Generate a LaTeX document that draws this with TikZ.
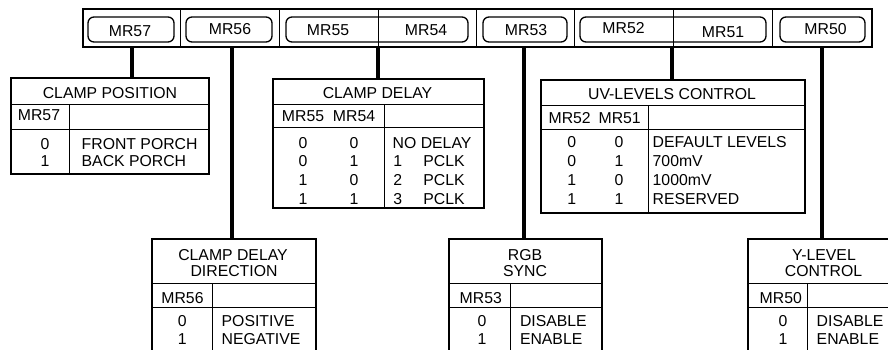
\documentclass[tikz,border=0pt]{standalone}
\usepackage{fontspec}
\setmainfont{Liberation Sans}
\begin{document}
\begin{tikzpicture}[x=1pt,y=-1pt,
  txt/.style={inner sep=0pt, outer sep=0pt, text height=11.3pt, text depth=0pt, font=\fontsize{15.8}{18}\selectfont},
  lft/.style={txt, anchor=west},
  tbl/.style={draw, line width=1.6pt, inner sep=0pt, outer sep=0pt, anchor=north west},
  thinline/.style={line width=1pt},
  conn/.style={line width=3.2pt},
  regbox/.style={draw, rounded corners=6pt, line width=1.3pt, inner sep=0pt, outer sep=0pt, anchor=north west, minimum height=25pt}]
\useasboundingbox (0,0) rectangle (888,349);
\begin{scope}
\clip (0,0) rectangle (888,349);
% ---------- top register bar ----------
\node[tbl, minimum width=789pt, minimum height=38pt] (bar) at (83,9) {};
\foreach \x in {180,279,378,476,574,673,772}
  \draw[thinline] (\x,9) -- (\x,47);
\node[regbox, minimum width=86pt]  (r57) at (88,17) {};
\node[regbox, minimum width=86pt]  (r56) at (186,17) {};
\node[regbox, minimum width=182pt] (r5554) at (286,17) {};
\node[regbox, minimum width=84pt]  (r53) at (483,17) {};
\node[regbox, minimum width=186pt] (r5251) at (580,17) {};
\node[regbox, minimum width=85pt]  (r50) at (780,17) {};
\node[txt] (l57) at (130,30.5) {MR57};
\node[txt] (l56) at (230,28.8) {MR56};
\node[txt] (l55) at (328,29.5) {MR55};
\node[txt] (l54) at (426,29.5) {MR54};
\node[txt] (l53) at (526,29.7) {MR53};
\node[txt] (l52) at (623.5,28) {MR52};
\node[txt] (l51) at (723,31.7) {MR51};
\node[txt] (l50) at (825.5,28.8) {MR50};
\coordinate (c57) at (132,47);
\coordinate (c56) at (232,47);
\coordinate (c5554) at (378,47);
\coordinate (c53) at (524,47);
\coordinate (c5251) at (672,47);
\coordinate (c50) at (822,47);

% ---------- CLAMP POSITION ----------
\node[tbl, minimum width=198pt, minimum height=96pt] (t1) at (11,78) {};
\draw[thinline] (11,104) -- (209,104);
\draw[thinline] (11,129) -- (209,129);
\draw[thinline] (69,104) -- (69,174);
\node[txt] (t1h) at (110,92.5) {CLAMP POSITION};
\node[txt] (t1r) at (39,115.3) {MR57};
\node[txt] (t1a0) at (45,144.2) {0};
\node[txt] (t1a1) at (45,160.8) {1};
\node[lft] (t1b0) at (81.7,144.2) {FRONT PORCH};
\node[lft] (t1b1) at (81.7,160.8) {BACK PORCH};

% ---------- CLAMP DELAY ----------
\node[tbl, minimum width=211pt, minimum height=129pt] (t2) at (273,79) {};
\draw[thinline] (273,104) -- (484,104);
\draw[thinline] (273,127) -- (484,127);
\draw[thinline] (384,104) -- (384,208);
\node[txt] (t2h) at (377.5,93) {CLAMP DELAY};
\node[txt] (t2r1) at (303,116.3) {MR55};
\node[txt] (t2r2) at (354,116.3) {MR54};
\foreach \y/\a/\b [count=\i] in {142.8/0/0,161.2/0/1,179.7/1/0,198.5/1/1}{
  \node[txt] (t2a\i) at (303,\y) {\a};
  \node[txt] (t2b\i) at (354,\y) {\b};
}
\node[lft] (t2c1) at (392.7,142.8) {NO DELAY};
\foreach \y/\n [count=\i] in {161.2/1,179.7/2,198.5/3}{
  \node[lft] (t2n\i) at (393.3,\y) {\n};
  \node[lft] (t2p\i) at (423.3,\y) {PCLK};
}

% ---------- UV-LEVELS CONTROL ----------
\node[tbl, minimum width=264pt, minimum height=133pt] (t3) at (541,80) {};
\draw[thinline] (541,105) -- (805,105);
\draw[thinline] (541,129) -- (805,129);
\draw[thinline] (648,105) -- (648,213);
\node[txt] (t3h) at (672,93.8) {UV-LEVELS CONTROL};
\node[txt] (t3r1) at (569.7,117.5) {MR52};
\node[txt] (t3r2) at (619.7,117.5) {MR51};
\foreach \y/\a/\b/\t [count=\i] in {141.5/0/0/DEFAULT LEVELS,160.8/0/1/700mV,179.8/1/0/1000mV,198.5/1/1/RESERVED}{
  \node[txt] (t3a\i) at (571.7,\y) {\a};
  \node[txt] (t3b\i) at (619,\y) {\b};
  \node[lft] (t3c\i) at (652.7,\y) {\t};
}

% ---------- CLAMP DELAY DIRECTION ----------
\node[tbl, minimum width=164pt, minimum height=130pt] (t4) at (152,239) {};
\draw[thinline] (152,283) -- (316,283);
\draw[thinline] (152,307) -- (316,307);
\draw[thinline] (212,283) -- (212,369);
\node[txt] (t4h1) at (233,254.7) {CLAMP DELAY};
\node[txt] (t4h2) at (234,271) {DIRECTION};
\node[txt] (t4r) at (182.5,297.5) {MR56};
\node[txt] (t4a0) at (182.3,320.5) {0};
\node[txt] (t4a1) at (182.3,339.2) {1};
\node[lft] (t4b0) at (221.7,320.5) {POSITIVE};
\node[lft] (t4b1) at (221.7,339.2) {NEGATIVE};

% ---------- RGB SYNC ----------
\node[tbl, minimum width=153pt, minimum height=130pt] (t5) at (449,239) {};
\draw[thinline] (449,283) -- (602,283);
\draw[thinline] (449,307) -- (602,307);
\draw[thinline] (510,283) -- (510,369);
\node[txt] (t5h1) at (525,254.7) {RGB};
\node[txt] (t5h2) at (525,271) {SYNC};
\node[txt] (t5r) at (480.8,297.5) {MR53};
\node[txt] (t5a0) at (482,320.5) {0};
\node[txt] (t5a1) at (482,339.2) {1};
\node[lft] (t5b0) at (520,320.5) {DISABLE};
\node[lft] (t5b1) at (520,339.2) {ENABLE};

% ---------- Y-LEVEL CONTROL ----------
\node[tbl, minimum width=153pt, minimum height=130pt] (t6) at (748,239) {};
\draw[thinline] (748,283) -- (901,283);
\draw[thinline] (748,307) -- (901,307);
\draw[thinline] (807,283) -- (807,369);
\node[txt] (t6h1) at (824,254.7) {Y-LEVEL};
\node[txt] (t6h2) at (823.5,271) {CONTROL};
\node[txt] (t6r) at (780.8,297.5) {MR50};
\node[txt] (t6a0) at (783,320.5) {0};
\node[txt] (t6a1) at (783,339.2) {1};
\node[lft] (t6b0) at (816.7,320.5) {DISABLE};
\node[lft] (t6b1) at (816.7,339.2) {ENABLE};

% ---------- connectors ----------
\draw[conn] (c57) -- (c57 |- t1.north);
\draw[conn] (c56) -- (c56 |- t4.north);
\draw[conn] (c5554) -- (c5554 |- t2.north);
\draw[conn] (c53) -- (c53 |- t5.north);
\draw[conn] (c5251) -- (c5251 |- t3.north);
\draw[conn] (c50) -- (c50 |- t6.north);
\end{scope}
\end{tikzpicture}
\end{document}
